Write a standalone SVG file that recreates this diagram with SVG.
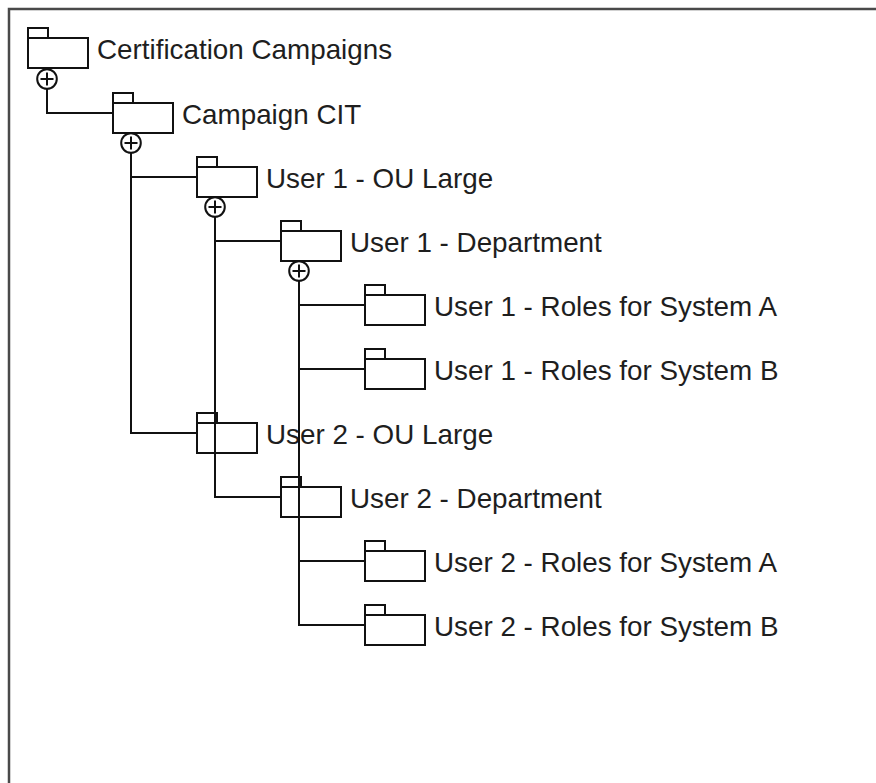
<svg xmlns="http://www.w3.org/2000/svg" width="876" height="783" viewBox="0 0 876 783">
  <style>
    .pkg { fill: #ffffff; stroke: #111111; stroke-width: 2; }
    .lbl { font-family: "Liberation Sans", Arial, sans-serif; font-size: 27.8px; fill: #1e1e1e; }
    .wire { fill: none; stroke: #111111; stroke-width: 2; }
    .own { fill: #ffffff; stroke: #111111; stroke-width: 2; }
    .frame { fill: none; stroke: #4a4a4a; stroke-width: 2.5; }
  </style>
  <defs>
    <!-- UML package icon: tab plus body, origin at top-left of the tab -->
    <g id="package">
      <rect class="pkg" x="0" y="0" width="20" height="10"/>
      <rect class="pkg" x="0" y="10" width="60" height="30"/>
    </g>
    <!-- containment marker (circled plus) centred on the origin -->
    <g id="owner">
      <circle class="own" cx="0" cy="0" r="9.8"/>
      <path class="wire" d="M-6.5,0 H6.5 M0,-6.5 V6.5"/>
    </g>
  </defs>

  <rect width="876" height="783" fill="#ffffff"/>
  <path class="frame" d="M9,783 V9 H876"/>

  <g id="nodes">
    <g id="certification-campaigns">
      <use href="#package" x="28" y="28"/>
      <text class="lbl" x="97" y="59">Certification Campaigns</text>
    </g>
    <g id="campaign-cit">
      <use href="#package" x="113" y="93"/>
      <text class="lbl" x="182" y="124">Campaign CIT</text>
    </g>
    <g id="user1-ou-large">
      <use href="#package" x="197" y="157"/>
      <text class="lbl" x="266" y="188">User 1 - OU Large</text>
    </g>
    <g id="user1-department">
      <use href="#package" x="281" y="221"/>
      <text class="lbl" x="350" y="252">User 1 - Department</text>
    </g>
    <g id="user1-roles-a">
      <use href="#package" x="365" y="285"/>
      <text class="lbl" x="434" y="316">User 1 - Roles for System A</text>
    </g>
    <g id="user1-roles-b">
      <use href="#package" x="365" y="349"/>
      <text class="lbl" x="434" y="380">User 1 - Roles for System B</text>
    </g>
    <g id="user2-ou-large">
      <use href="#package" x="197" y="413"/>
      <text class="lbl" x="266" y="444">User 2 - OU Large</text>
    </g>
    <g id="user2-department">
      <use href="#package" x="281" y="477"/>
      <text class="lbl" x="350" y="508">User 2 - Department</text>
    </g>
    <g id="user2-roles-a">
      <use href="#package" x="365" y="541"/>
      <text class="lbl" x="434" y="572">User 2 - Roles for System A</text>
    </g>
    <g id="user2-roles-b">
      <use href="#package" x="365" y="605"/>
      <text class="lbl" x="434" y="636">User 2 - Roles for System B</text>
    </g>
  </g>

  <g id="connectors">
    <path class="wire" d="M47,89 V113 H113"/>
    <path class="wire" d="M131,153 V433 H197 M131,177 H197"/>
    <path class="wire" d="M215,217 V497 H281 M215,241 H281"/>
    <path class="wire" d="M299,281 V625 H365 M299,305 H365 M299,369 H365 M299,561 H365"/>
    <use href="#owner" x="47" y="79"/>
    <use href="#owner" x="131" y="143"/>
    <use href="#owner" x="215" y="207"/>
    <use href="#owner" x="299" y="271"/>
  </g>
</svg>
